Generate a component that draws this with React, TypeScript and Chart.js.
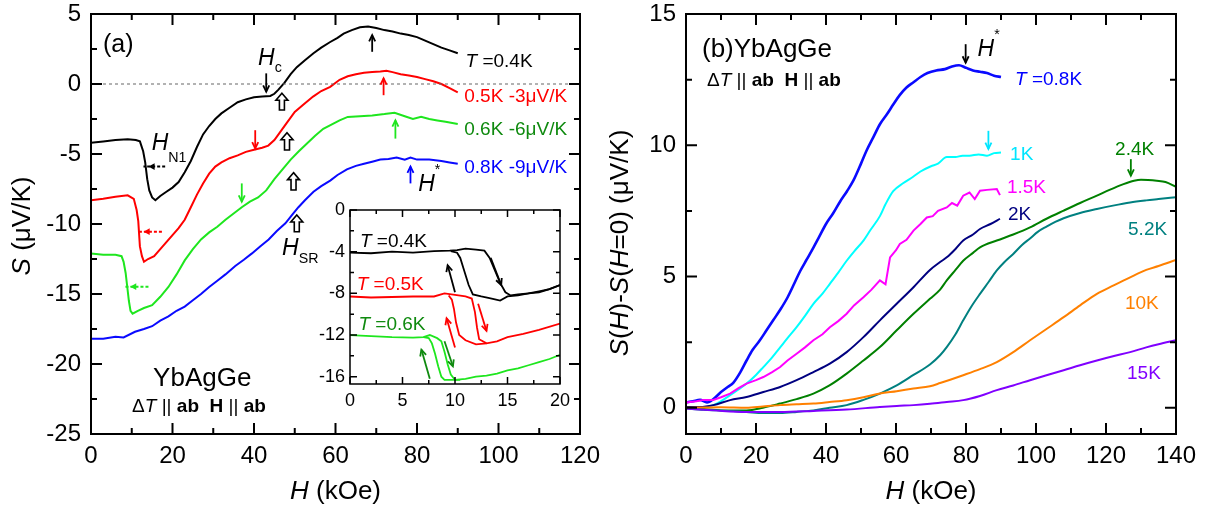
import React, { useEffect, useRef } from 'react';
import { Chart, registerables } from 'chart.js';

Chart.register(...registerables);

const FONT = '"Liberation Sans", Arial, Helvetica, sans-serif';
type P = [number, number];

// ---------------- Panel (a): S(H) curves, offsets already applied ----------------
const a04: P[] = [[0,-4.2],[3,-4.1],[6,-4.0],[9,-3.95],[11,-4.0],[12,-4.1],[12.8,-4.8],[13.3,-5.6],[13.8,-6.8],[14.3,-7.6],[15,-8.1],[15.8,-8.3],[17,-8.0],[18.5,-7.7],[20,-7.4],[21.5,-7.0],[23,-6.3],[24.5,-5.5],[26,-4.5],[27.5,-3.6],[29,-3.0],[30.5,-2.5],[32,-2.1],[34,-1.7],[36,-1.3],[38,-1.1],[40,-0.95],[42,-0.9],[44,-0.85],[45,-0.7],[46,-0.4],[47.5,0.1],[49,0.7],[50.5,1.2],[52.5,1.7],[54.6,2.2],[56.5,2.6],[58.7,3.0],[60.5,3.3],[62,3.6],[64,3.85],[66,4.05],[68,4.1],[70,4.0],[72,3.85],[74,3.75],[76,3.6],[78,3.5],[80,3.35],[82,3.1],[84,2.85],[86,2.6],[88,2.4],[90,2.2]];
const a05: P[] = [[0,-8.3],[3,-8.2],[6,-8.05],[9,-7.95],[10.5,-8.2],[11.2,-9.0],[11.6,-9.8],[12,-11.6],[12.5,-12.3],[13,-12.7],[14,-12.5],[15.5,-12.3],[17,-11.8],[18.5,-11.3],[20,-10.8],[21.5,-10.3],[23,-9.7],[24.5,-8.8],[26,-7.9],[27.5,-7.1],[29,-6.4],[30.5,-5.9],[32,-5.6],[34,-5.3],[36,-5.1],[38,-4.85],[40,-4.7],[42,-4.55],[43.5,-4.4],[45,-4.0],[46.5,-3.4],[48,-2.8],[50,-2.0],[52,-1.5],[54.5,-0.9],[56.5,-0.5],[58.7,-0.2],[61,0.3],[63,0.55],[65,0.7],[67,0.8],[69,0.85],[71,0.9],[72.5,0.95],[74,0.85],[76,0.7],[78,0.6],[80,0.5],[82,0.35],[84,0.2],[86,0.0],[88,-0.3],[90,-0.6]];
const a06: P[] = [[0,-12.1],[3,-12.2],[6,-12.2],[7.5,-12.3],[8,-12.7],[8.5,-13.5],[8.9,-14.5],[9.3,-15.5],[9.7,-16.2],[10.2,-16.4],[11.5,-16.2],[13,-16.0],[15,-15.8],[17,-15.2],[19,-14.5],[21,-13.6],[23,-12.6],[25,-11.8],[27,-11.1],[29,-10.6],[31,-10.2],[33,-9.7],[35,-9.25],[37,-8.8],[39,-8.4],[41,-8.1],[43,-7.6],[45,-6.8],[47,-6.1],[49,-5.4],[51,-4.8],[53,-4.25],[55,-3.7],[57,-3.2],[59,-2.9],[61,-2.6],[63,-2.35],[66,-2.3],[69,-2.25],[72,-2.15],[74.5,-2.05],[77,-2.3],[79,-2.5],[81,-2.35],[83,-2.5],[85,-2.6],[87,-2.7],[90,-2.85]];
const a08: P[] = [[0,-18.2],[3,-18.2],[6,-18.05],[8,-18.1],[10.8,-17.7],[13,-17.5],[15,-17.3],[17,-16.9],[19,-16.6],[21,-16.2],[23,-15.9],[25,-15.45],[27,-15.0],[29,-14.5],[31,-14.05],[33,-13.6],[35.4,-13.0],[37.5,-12.55],[39.5,-12.1],[41.5,-11.6],[43.6,-11.1],[45.6,-10.5],[47.7,-9.95],[49.5,-9.3],[50.9,-8.8],[52.5,-8.3],[54.6,-7.7],[56.5,-7.3],[58.7,-6.9],[60.5,-6.5],[62.8,-6.1],[65,-5.85],[67,-5.7],[69,-5.55],[71,-5.4],[73,-5.35],[75,-5.25],[77,-5.4],[78.4,-5.25],[80,-5.4],[83,-5.4],[86,-5.5],[88,-5.6],[90,-5.7]];
const zeroLine: P[] = [[0,0],[120,0]];

// ---------------- Inset: hysteresis (up / down sweeps) ----------------
const i04up: P[] = [[0,-4.1],[2,-4.15],[4,-4.0],[6,-4.1],[8,-3.95],[9.5,-3.9],[10.2,-3.85],[11,-3.7],[12,-3.8],[12.8,-3.9],[13.3,-4.6],[13.8,-5.8],[14.3,-7.0],[14.8,-7.9],[15.3,-8.2],[16,-8.1],[17,-8.0],[18,-7.8],[19,-7.6],[20,-7.2]];
const i04dn: P[] = [[20,-7.2],[19,-7.6],[18,-7.9],[17,-8.0],[16,-8.2],[15,-8.3],[14.3,-8.7],[13.5,-8.5],[12.5,-8.3],[11.7,-8.1],[11.3,-7.2],[10.9,-5.9],[10.5,-4.6],[10.2,-4.1],[9.6,-3.95]];
const i05up: P[] = [[0,-8.3],[2,-8.4],[4,-8.35],[6,-8.3],[8,-8.3],[9,-8.0],[10,-8.15],[11,-8.3],[11.6,-8.5],[11.9,-9.8],[12.1,-11.3],[12.3,-12.4],[13,-12.8],[14,-12.6],[15,-12.2],[16.5,-11.9],[18,-11.5],[20,-10.9]];
const i05dn: P[] = [[13,-12.8],[12,-12.9],[11,-12.5],[10.4,-12.0],[10.1,-10.8],[9.9,-9.5],[9.7,-8.6],[9.4,-8.2]];
const i06up: P[] = [[0,-12.0],[2,-12.1],[4,-12.2],[6,-12.25],[7,-12.2],[7.6,-12.0],[8.3,-12.3],[8.7,-12.6],[9.0,-13.6],[9.3,-14.8],[9.6,-15.8],[10.0,-16.3],[11,-16.2],[12,-16.0],[13,-15.9],[14,-15.7],[15,-15.4],[16,-15.2],[17,-14.9],[18,-14.6],[19,-14.3],[20,-13.9]];
const i06dn: P[] = [[10.5,-16.3],[9,-16.3],[8.7,-16.0],[8.4,-15.0],[8.1,-13.8],[7.8,-12.8],[7.5,-12.3],[7.0,-12.2]];

// ---------------- Panel (b): S(H)-S(0) ----------------
const b08: P[] = [[0,0.2],[2,0.25],[4,0.3],[6,0.2],[8,0.35],[10,0.6],[12,0.8],[13.5,0.95],[15.5,1.35],[17.3,1.8],[19,2.2],[21,2.55],[23,2.95],[25,3.35],[27,3.75],[29,4.2],[31,4.75],[32.6,5.2],[34.5,5.65],[36.4,6.1],[38,6.5],[40,7.0],[42,7.4],[44,7.85],[46,8.25],[47.8,8.65],[50,9.3],[51.6,9.8],[53.5,10.3],[55.4,10.8],[57.5,11.2],[59.2,11.55],[61,11.9],[63,12.2],[65,12.4],[67,12.6],[69,12.75],[71.5,12.85],[74,12.9],[76,13.0],[78,13.05],[80,12.95],[82,12.85],[84,12.8],[86,12.75],[88,12.65],[90,12.6]];
const b1: P[] = [[0,0.0],[4,0.0],[7.8,0.1],[10,0.25],[12.6,0.48],[15,0.7],[17.3,0.92],[20,1.25],[22.1,1.55],[24.5,1.9],[26.9,2.3],[29,2.65],[31.6,3.07],[34,3.5],[36.4,3.96],[39,4.35],[41.1,4.72],[43.5,5.15],[45.9,5.6],[48,5.95],[50.7,6.37],[52.6,6.75],[55.4,7.3],[57,7.75],[59.2,8.25],[62,8.55],[64.9,8.8],[67,9.0],[70,9.2],[72,9.3],[74.5,9.55],[77,9.55],[79,9.6],[81,9.6],[83.6,9.65],[86,9.6],[88,9.7],[90,9.72]];
const b15: P[] = [[0,0.2],[3,0.25],[5,0.3],[7.8,0.3],[10,0.4],[12.6,0.54],[15,0.75],[17.3,0.92],[20,1.05],[22.1,1.17],[24.5,1.35],[26.9,1.55],[29,1.8],[31.6,2.06],[34,2.3],[36.4,2.57],[39,2.8],[41.1,3.07],[43.5,3.3],[45.9,3.58],[48,3.9],[50.7,4.21],[53,4.5],[55.4,4.85],[57,4.7],[58.3,5.73],[60,6.0],[61.1,6.24],[63,6.4],[65,6.75],[67,7.0],[68.8,7.25],[70.5,7.3],[72,7.5],[74.5,7.63],[76,7.8],[77.5,7.7],[79.2,8.08],[81,8.2],[82.5,7.95],[84,8.27],[86,8.3],[88.8,8.33],[89.7,8.1]];
const b2: P[] = [[0,0.03],[4,0.03],[7.8,0.1],[12.6,0.29],[17.3,0.41],[22.1,0.6],[26.9,0.79],[31.6,1.05],[36.4,1.36],[41.1,1.68],[45.9,2.12],[50.7,2.69],[55.4,3.33],[60.2,3.96],[65,4.59],[69.7,5.25],[72.6,5.55],[74.5,5.73],[77,6.05],[79.2,6.37],[82,6.6],[84,6.81],[87,7.0],[89.7,7.2]];
const b24: P[] = [[0,0.0],[5,-0.05],[10,-0.1],[17.3,-0.1],[22,0.0],[26.9,0.16],[31.6,0.33],[36.4,0.54],[41,0.85],[45.9,1.3],[50.7,1.8],[55.4,2.31],[60.2,2.95],[65,3.58],[69.7,4.15],[72.6,4.5],[74.5,4.85],[77,5.25],[79.2,5.6],[82,5.9],[84,6.11],[88.8,6.37],[93.5,6.6],[98.3,6.87],[103,7.2],[107.9,7.51],[112.6,7.8],[117.4,8.08],[121,8.3],[125,8.52],[128,8.65],[130,8.69],[132,8.68],[134.5,8.65],[137,8.6],[140,8.42]];
const b52: P[] = [[0,-0.03],[5,-0.08],[10,-0.1],[17.3,-0.16],[22,-0.2],[26.9,-0.2],[31.6,-0.16],[36.4,-0.1],[41,0.0],[45.9,0.1],[50.7,0.3],[55.4,0.54],[60.2,0.85],[65,1.25],[69.7,1.65],[72.6,2.0],[74.5,2.31],[77,2.8],[79.2,3.33],[81.5,3.85],[84,4.34],[86.5,4.8],[88.8,5.23],[91,5.55],[93.5,5.86],[96,6.2],[98.3,6.45],[100.5,6.7],[103,6.9],[105.5,7.08],[107.9,7.22],[112.6,7.42],[117.4,7.57],[122,7.7],[126.9,7.82],[131.5,7.9],[135,7.95],[140,8.02]];
const b10: P[] = [[0,0.0],[10,0.02],[17.3,0.0],[22,0.05],[26.9,0.1],[31.6,0.13],[36.4,0.16],[41,0.22],[45.9,0.29],[50.7,0.4],[55.4,0.54],[60.2,0.63],[65,0.73],[69.7,0.82],[72.6,0.94],[79.2,1.24],[84,1.47],[88.8,1.74],[93.5,2.12],[98.3,2.57],[103,3.0],[107.9,3.45],[112.6,3.9],[117.4,4.34],[122,4.65],[126.9,4.97],[131.5,5.25],[135,5.4],[140,5.63]];
const b15K: P[] = [[0,-0.03],[8,-0.1],[17.3,-0.16],[26.9,-0.16],[36.4,-0.12],[45.9,-0.07],[55.4,0.03],[60.2,0.07],[65,0.1],[69.7,0.15],[74.5,0.22],[79.2,0.29],[84,0.45],[88.8,0.67],[93.5,0.85],[98.3,1.05],[103,1.24],[107.9,1.43],[112.6,1.62],[117.4,1.8],[122,1.96],[126.9,2.12],[131.5,2.3],[135,2.42],[140,2.57]];

// ---------------- annotation helpers ----------------
type Seg = { t: string; i?: boolean; b?: boolean; sub?: boolean; sup?: boolean; dy?: number };
type TextItem = { x: number; y: number; segs: Seg[]; size: number; color: string; align?: 'left' | 'center' };
type ArrowItem = { x1: number; y1: number; x2: number; y2: number; color: string; dash?: boolean };
type Hollow = { x: number; tip: number; base: number };
type Title = { px: number; py: number; segs: Seg[]; size: number; rot?: number };
type Decor = {
  texts?: TextItem[]; arrows?: ArrowItem[]; hollow?: Hollow[]; titles?: Title[];
  xt: { major: number; minor: number }; yt: { major: number; minor: number };
  lenMaj: number; lenMin: number; lw: number;
};

const sg = (t: string, o: Partial<Seg> = {}): Seg => ({ t, ...o });

function segFont(s: Seg, size: number) {
  const sz = s.sub || s.sup ? size * 0.62 : size;
  return `${s.i ? 'italic ' : ''}${s.b ? 'bold ' : ''}${sz}px ${FONT}`;
}

function drawRich(ctx: CanvasRenderingContext2D, segs: Seg[], x: number, y: number, size: number, color: string, align = 'left', rot = 0) {
  ctx.save();
  ctx.translate(x, y);
  if (rot) ctx.rotate(rot);
  let w = 0;
  for (const s of segs) { ctx.font = segFont(s, size); w += ctx.measureText(s.t).width; }
  let cx = align === 'center' ? -w / 2 : 0;
  const base = size * 0.36;
  ctx.fillStyle = color;
  ctx.textBaseline = 'alphabetic';
  ctx.textAlign = 'left';
  for (const s of segs) {
    ctx.font = segFont(s, size);
    let dy = base;
    if (s.sub) dy = base + (s.dy ?? size * 0.33);
    if (s.sup) dy = base + (s.dy ?? -size * 0.75);
    ctx.fillText(s.t, cx, dy);
    cx += ctx.measureText(s.t).width;
  }
  ctx.restore();
}

function drawArrow(ctx: CanvasRenderingContext2D, x1: number, y1: number, x2: number, y2: number, color: string, dash?: boolean) {
  const ang = Math.atan2(y2 - y1, x2 - x1);
  ctx.save();
  ctx.strokeStyle = color; ctx.fillStyle = color;
  if (dash) {
    ctx.lineWidth = 2;
    ctx.setLineDash([3, 2]);
    ctx.beginPath(); ctx.moveTo(x1, y1); ctx.lineTo(x2 + 5 * Math.cos(ang), y2 + 5 * Math.sin(ang)); ctx.stroke();
    ctx.setLineDash([]);
    ctx.beginPath();
    ctx.moveTo(x2, y2);
    ctx.lineTo(x2 - 7 * Math.cos(ang - 0.5), y2 - 7 * Math.sin(ang - 0.5));
    ctx.lineTo(x2 - 7 * Math.cos(ang + 0.5), y2 - 7 * Math.sin(ang + 0.5));
    ctx.closePath(); ctx.fill();
  } else {
    ctx.lineWidth = 1.8;
    ctx.beginPath(); ctx.moveTo(x1, y1); ctx.lineTo(x2, y2); ctx.stroke();
    ctx.beginPath();
    ctx.moveTo(x2 - 7 * Math.cos(ang - 0.45), y2 - 7 * Math.sin(ang - 0.45));
    ctx.lineTo(x2, y2);
    ctx.lineTo(x2 - 7 * Math.cos(ang + 0.45), y2 - 7 * Math.sin(ang + 0.45));
    ctx.stroke();
  }
  ctx.restore();
}

function drawHollow(ctx: CanvasRenderingContext2D, x: number, tip: number, base: number) {
  ctx.save();
  ctx.beginPath();
  ctx.moveTo(x, tip);
  ctx.lineTo(x + 6, tip + 7);
  ctx.lineTo(x + 2.5, tip + 7);
  ctx.lineTo(x + 2.5, base);
  ctx.lineTo(x - 2.5, base);
  ctx.lineTo(x - 2.5, tip + 7);
  ctx.lineTo(x - 6, tip + 7);
  ctx.closePath();
  ctx.fillStyle = '#fff'; ctx.fill();
  ctx.strokeStyle = '#000'; ctx.lineWidth = 1.6; ctx.stroke();
  ctx.restore();
}

function makeDecor(cfg: Decor) {
  return {
    id: 'decor',
    afterDatasetsDraw(chart: any) {
      const ctx: CanvasRenderingContext2D = chart.ctx;
      const a = chart.chartArea;
      const sx = chart.scales.x, sy = chart.scales.y;
      const X = (v: number) => sx.getPixelForValue(v);
      const Y = (v: number) => sy.getPixelForValue(v);
      ctx.save();
      ctx.strokeStyle = '#000';
      ctx.lineWidth = cfg.lw;
      ctx.beginPath();
      const isMaj = (v: number, m: number) => Math.abs(v / m - Math.round(v / m)) < 1e-6;
      for (let v = Math.ceil(sx.min / cfg.xt.minor - 1e-9) * cfg.xt.minor; v <= sx.max + 1e-9; v += cfg.xt.minor) {
        const L = isMaj(v, cfg.xt.major) ? cfg.lenMaj : cfg.lenMin;
        const p = X(v);
        ctx.moveTo(p, a.bottom); ctx.lineTo(p, a.bottom - L);
        ctx.moveTo(p, a.top); ctx.lineTo(p, a.top + L);
      }
      for (let v = Math.ceil(sy.min / cfg.yt.minor - 1e-9) * cfg.yt.minor; v <= sy.max + 1e-9; v += cfg.yt.minor) {
        const L = isMaj(v, cfg.yt.major) ? cfg.lenMaj : cfg.lenMin;
        const p = Y(v);
        ctx.moveTo(a.left, p); ctx.lineTo(a.left + L, p);
        ctx.moveTo(a.right, p); ctx.lineTo(a.right - L, p);
      }
      ctx.stroke();
      ctx.strokeRect(a.left, a.top, a.right - a.left, a.bottom - a.top);
      ctx.restore();
      for (const h of cfg.hollow || []) drawHollow(ctx, X(h.x), Y(h.tip), Y(h.base));
      for (const r of cfg.arrows || []) drawArrow(ctx, X(r.x1), Y(r.y1), X(r.x2), Y(r.y2), r.color, r.dash);
      for (const t of cfg.texts || []) drawRich(ctx, t.segs, X(t.x), Y(t.y), t.size, t.color, t.align || 'left');
      for (const t of cfg.titles || []) drawRich(ctx, t.segs, t.px, t.py, t.size, '#000', 'center', t.rot || 0);
    },
  };
}

// ---------------- annotation content ----------------
const GREEN_LABEL = '#0f8a0f';
const dT: Seg[] = [sg('\u0394'), sg('T', { i: true }), sg(' || '), sg('ab', { b: true }), sg('  '), sg('H', { b: true }), sg(' || '), sg('ab', { b: true })];

const aTexts: TextItem[] = [
  { x: 2.95, y: 2.93, segs: [sg('(a)')], size: 25, color: '#000' },
  { x: 41.0, y: 1.95, segs: [sg('H', { i: true }), sg('c', { sub: true, dy: 7 })], size: 23, color: '#000' },
  { x: 14.9, y: -4.12, segs: [sg('H', { i: true }), sg('N1', { sub: true, dy: 12 })], size: 23, color: '#000' },
  { x: 46.9, y: -11.62, segs: [sg('H', { i: true }), sg('SR', { sub: true, dy: 8 })], size: 23, color: '#000' },
  { x: 80.3, y: -7.07, segs: [sg('H', { i: true }), sg('*', { sup: true })], size: 23, color: '#000' },
  { x: 91.9, y: 1.71, segs: [sg('T', { i: true }), sg(' =0.4K')], size: 19, color: '#000' },
  { x: 91.6, y: -0.79, segs: [sg('0.5K -3\u03BCV/K')], size: 19, color: '#ff0000' },
  { x: 91.6, y: -3.14, segs: [sg('0.6K -6\u03BCV/K')], size: 19, color: GREEN_LABEL },
  { x: 91.6, y: -5.9, segs: [sg('0.8K -9\u03BCV/K')], size: 19, color: '#0000ff' },
  { x: 27.3, y: -20.93, segs: [sg('YbAgGe')], size: 26, color: '#000', align: 'center' },
  { x: 26.5, y: -22.93, segs: dT, size: 19, color: '#000', align: 'center' },
];
const aArrows: ArrowItem[] = [
  { x1: 43.0, y1: 0.76, x2: 43.0, y2: -0.55, color: '#000' },
  { x1: 69.0, y1: 2.3, x2: 69.0, y2: 3.5, color: '#000' },
  { x1: 71.8, y1: -0.8, x2: 71.8, y2: 0.4, color: '#ff0000' },
  { x1: 74.7, y1: -3.9, x2: 74.7, y2: -2.6, color: '#1ee61e' },
  { x1: 78.4, y1: -7.1, x2: 78.4, y2: -5.9, color: '#0000ff' },
  { x1: 40.3, y1: -3.3, x2: 40.3, y2: -4.6, color: '#ff0000' },
  { x1: 37.0, y1: -7.1, x2: 37.0, y2: -8.4, color: '#1ee61e' },
  { x1: 18.2, y1: -5.9, x2: 14.1, y2: -5.9, color: '#000', dash: true },
  { x1: 17.4, y1: -10.55, x2: 12.9, y2: -10.55, color: '#ff0000', dash: true },
  { x1: 14.1, y1: -14.48, x2: 9.6, y2: -14.48, color: '#1ee61e', dash: true },
];
const aHollow: Hollow[] = [
  { x: 46.85, tip: -0.66, base: -1.86 },
  { x: 48.1, tip: -3.48, base: -4.71 },
  { x: 49.7, tip: -6.33, base: -7.57 },
  { x: 50.5, tip: -9.36, base: -10.55 },
];
const iTexts: TextItem[] = [
  { x: 0.95, y: -2.88, segs: [sg('T', { i: true }), sg(' =0.4K')], size: 19, color: '#000' },
  { x: 0.64, y: -7.03, segs: [sg('T', { i: true }), sg(' =0.5K')], size: 19, color: '#ff0000' },
  { x: 0.8, y: -10.87, segs: [sg('T', { i: true }), sg(' =0.6K')], size: 19, color: GREEN_LABEL },
];
const iArrows: ArrowItem[] = [
  { x1: 13.4, y1: -4.6, x2: 14.4, y2: -7.2, color: '#000' },
  { x1: 10.0, y1: -7.9, x2: 9.3, y2: -5.3, color: '#000' },
  { x1: 10.0, y1: -13.2, x2: 9.2, y2: -10.4, color: '#ff0000' },
  { x1: 12.2, y1: -9.0, x2: 13.0, y2: -11.6, color: '#ff0000' },
  { x1: 7.6, y1: -16.2, x2: 6.8, y2: -13.4, color: GREEN_LABEL },
  { x1: 9.0, y1: -12.6, x2: 9.8, y2: -15.0, color: GREEN_LABEL },
];
const bTexts: TextItem[] = [
  { x: 4.57, y: 13.71, segs: [sg('(b)YbAgGe')], size: 26, color: '#000' },
  { x: 6.0, y: 12.53, segs: dT, size: 19, color: '#000' },
  { x: 83.3, y: 13.72, segs: [sg('H', { i: true }), sg('*', { sup: true })], size: 23, color: '#000' },
  { x: 94.0, y: 12.57, segs: [sg('T', { i: true }), sg(' =0.8K')], size: 19, color: '#0000ff' },
  { x: 92.6, y: 9.68, segs: [sg('1K')], size: 19, color: '#00e5ff' },
  { x: 91.7, y: 8.46, segs: [sg('1.5K')], size: 19, color: '#ff00ff' },
  { x: 92.0, y: 7.41, segs: [sg('2K')], size: 19, color: '#000080' },
  { x: 122.6, y: 9.9, segs: [sg('2.4K')], size: 19, color: '#008000' },
  { x: 126.3, y: 6.83, segs: [sg('5.2K')], size: 19, color: '#008080' },
  { x: 125.4, y: 4.01, segs: [sg('10K')], size: 19, color: '#ff8000' },
  { x: 126.0, y: 1.35, segs: [sg('15K')], size: 19, color: '#8000ff' },
];
const bArrows: ArrowItem[] = [
  { x1: 79.9, y1: 13.85, x2: 79.9, y2: 13.15, color: '#000' },
  { x1: 86.4, y1: 10.55, x2: 86.4, y2: 9.86, color: '#00e5ff' },
  { x1: 127.1, y1: 9.47, x2: 127.1, y2: 8.84, color: '#008000' },
];

// ---------------- chart building ----------------
const ds = (pts: P[], color: string, width = 2, smooth = false, dash?: number[]) => ({
  data: pts.map(([x, y]) => ({ x, y })),
  borderColor: color,
  borderWidth: width,
  borderDash: dash || [],
  pointRadius: 0,
  showLine: true,
  fill: false,
  tension: 0,
  cubicInterpolationMode: smooth ? 'monotone' : 'default',
});

function scalesCfg(xmin: number, xmax: number, xstep: number, ymin: number, ymax: number, ystep: number, fs: number, yw: number, xh: number, xpad: number, ypad: number) {
  const tick = { font: { family: FONT, size: fs }, color: '#000' };
  return {
    x: {
      type: 'linear', min: xmin, max: xmax,
      ticks: { ...tick, stepSize: xstep, padding: xpad, maxRotation: 0, autoSkip: false, includeBounds: false },
      grid: { display: false, drawTicks: false }, border: { display: false },
      afterFit: (s: any) => { s.height = xh; s.paddingLeft = 0; s.paddingRight = 0; },
    },
    y: {
      type: 'linear', min: ymin, max: ymax,
      ticks: { ...tick, stepSize: ystep, padding: ypad, autoSkip: false, includeBounds: false },
      grid: { display: false, drawTicks: false }, border: { display: false },
      afterFit: (s: any) => { s.width = yw; s.paddingTop = 0; s.paddingBottom = 0; },
    },
  };
}

function baseOpts(pad: any, scales: any) {
  return {
    animation: false,
    responsive: false,
    devicePixelRatio: 1,
    layout: { padding: pad },
    plugins: { legend: { display: false }, tooltip: { enabled: false } },
    scales,
  };
}

export default function App() {
  const refA = useRef<HTMLCanvasElement>(null);
  const refB = useRef<HTMLCanvasElement>(null);
  const refI = useRef<HTMLCanvasElement>(null);

  useEffect(() => {
    const charts: Chart[] = [];
    charts.push(new Chart(refA.current!, {
      type: 'scatter',
      data: { datasets: [
        ds(zeroLine, '#666', 1, false, [3, 3]),
        ds(a04, '#000000'), ds(a05, '#ff0000'), ds(a06, '#1ee61e'), ds(a08, '#0a0aff'),
      ] as any },
      options: baseOpts({ top: 14, right: 20, left: 0, bottom: 0 },
        scalesCfg(0, 120, 20, -25, 5, 5, 24, 91, 74, 8, 10)) as any,
      plugins: [makeDecor({
        texts: aTexts, arrows: aArrows, hollow: aHollow,
        titles: [
          { px: 21, py: 226, segs: [sg('S', { i: true }), sg(' (\u03BCV/K)')], size: 26, rot: -Math.PI / 2 },
          { px: 335.5, py: 490, segs: [sg('H', { i: true }), sg(' (kOe)')], size: 26 },
        ],
        xt: { major: 20, minor: 10 }, yt: { major: 5, minor: 2.5 }, lenMaj: 11, lenMin: 6, lw: 2,
      })],
    }));
    charts.push(new Chart(refI.current!, {
      type: 'scatter',
      data: { datasets: [
        ds(i04up, '#000000', 1.8), ds(i04dn, '#000000', 1.8),
        ds(i05up, '#ff0000', 1.8), ds(i05dn, '#ff0000', 1.8),
        ds(i06up, '#1ee61e', 1.8), ds(i06dn, '#1ee61e', 1.8),
      ] as any },
      options: baseOpts({ top: 15, right: 10, left: 0, bottom: 0 },
        scalesCfg(0, 20, 5, -16.7, 0, 4, 18, 50, 36, 6, 5)) as any,
      plugins: [makeDecor({
        texts: iTexts, arrows: iArrows,
        xt: { major: 5, minor: 2.5 }, yt: { major: 4, minor: 2 }, lenMaj: 7, lenMin: 4, lw: 1.5,
      })],
    }));
    charts.push(new Chart(refB.current!, {
      type: 'scatter',
      data: { datasets: [
        ds(b15K, '#8000ff', 2, true), ds(b10, '#ff8000', 2, true), ds(b52, '#008080', 2, true), ds(b24, '#008000', 2, true),
        ds(b2, '#000080', 2, true), ds(b15, '#ff00ff', 2), ds(b1, '#00ffff', 2, true), ds(b08, '#0a0aff', 2.6, true),
      ] as any },
      options: baseOpts({ top: 14, right: 37, left: 0, bottom: 0 },
        scalesCfg(0, 140, 20, -1, 15, 5, 24, 86, 74, 8, 10)) as any,
      plugins: [makeDecor({
        texts: bTexts, arrows: bArrows,
        titles: [
          { px: 19, py: 243, segs: [sg('S', { i: true }), sg('('), sg('H', { i: true }), sg(')-'), sg('S', { i: true }), sg('('), sg('H', { i: true }), sg('=0) (\u03BCV/K)')], size: 26, rot: -Math.PI / 2 },
          { px: 331, py: 490, segs: [sg('H', { i: true }), sg(' (kOe)')], size: 26 },
        ],
        xt: { major: 20, minor: 10 }, yt: { major: 5, minor: 2.5 }, lenMaj: 11, lenMin: 6, lw: 2,
      })],
    }));
    return () => charts.forEach((c) => c.destroy());
  }, []);

  return (
    <div style={{ position: 'absolute', left: 0, top: 0, width: 1213, height: 508, background: '#fff', overflow: 'hidden' }}>
      <canvas ref={refA} width={600} height={508} style={{ position: 'absolute', left: 0, top: 0, width: 600, height: 508 }} />
      <canvas ref={refB} width={613} height={508} style={{ position: 'absolute', left: 600, top: 0, width: 613, height: 508 }} />
      <canvas ref={refI} width={270} height={225} style={{ position: 'absolute', left: 300, top: 195, width: 270, height: 225 }} />
    </div>
  );
}
